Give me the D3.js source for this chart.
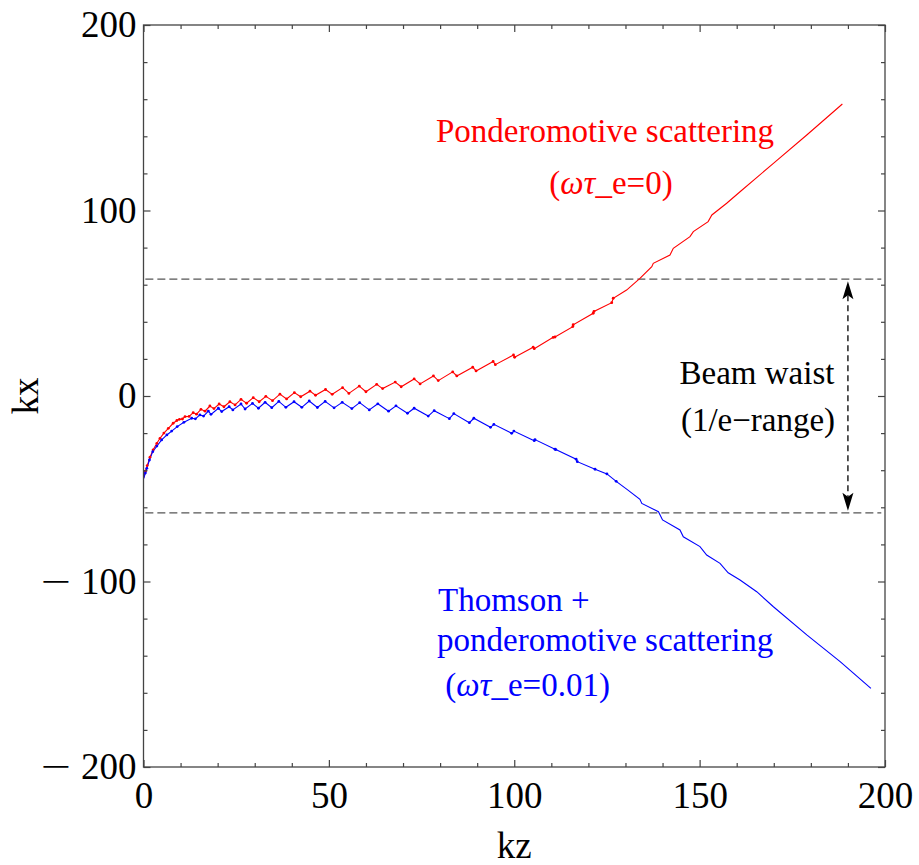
<!DOCTYPE html>
<html>
<head>
<meta charset="utf-8">
<script src="https://cdn.jsdelivr.net/npm/d3@7"></script>
<style>
  html, body { margin: 0; padding: 0; background: #fff; }
  svg { display: block; }
  text { font-family: "Liberation Serif", "Times New Roman", serif; }
</style>
</head>
<body>
<div id="chart"></div>
<script>
// ---------- data ----------
const redKz = [0.1,0.5,1.0,1.75,2.6,3.6,4.45,5.5,6.7,8.0,9.0,9.7,10.5,11.2,12.3,13.4,14.3,15.5,16.6,17.9,19.0,20.4,21.7,23.3,24.7,26.3,27.8,29.6,31.2,33.0,34.8,36.8,38.6,40.7,42.4,44.9,46.4,49.1,50.9,53.7,55.4,58.2,60.0,62.9,64.5,67.9,69.5,73.0,74.6,78.2,79.5,83.4,84.5,88.8,89.7,94.3,94.9,99.8,100.1,105.1,105.4,110.5,111.0,115.8,115.9,121.3,121.5,126.3,126.7,130.3,133.9,137.1,137.5,142.0,142.9,147.4,148.3,152.3,153.3,157.3,160.9,169.9,178.9,188.5];
const redKx = [-44,-40.5,-37.5,-33,-29,-25.5,-22.8,-20,-17.4,-14.7,-13.2,-12.6,-12.4,-11.1,-11.0,-9.0,-9.8,-7.2,-8.2,-5.4,-6.8,-4.3,-5.8,-3.1,-4.8,-1.8,-3.9,-0.9,-3.1,-0.2,-2.5,1.0,-1.6,1.8,-0.4,2.6,0.4,3.5,0.9,4.5,1.4,5.3,2.3,6.3,4.0,7.5,5.0,9.2,6.5,10.8,8.3,13.0,10.8,15.5,13.5,18.6,16.9,22.1,20.9,26.3,25.5,31.6,31.8,37.4,38.4,44.6,45.6,50.3,52.7,57.1,63.4,69.7,71.5,76.0,79.6,85.9,88.6,94.0,97.6,103.9,110.1,125.4,140.7,157.4];

const blueKz = [0.05,0.5,0.9,1.6,2.5,3.6,4.9,6.3,7.6,9.1,10.9,13.0,14.0,15.2,16.2,17.5,18.2,20.2,21.1,23.1,24.1,26.3,27.4,29.4,31.0,32.8,34.6,36.5,38.4,40.6,42.7,44.7,46.9,49.0,51.4,53.6,56.2,58.3,60.9,63.2,66.1,68.1,71.2,73.0,76.8,78.4,82.5,83.7,87.9,89.1,93.6,94.5,99.3,99.9,105.4,105.6,111.0,111.2,116.7,117.0,121.8,125.0,127.5,130.5,133.9,134.4,138.9,140.0,144.7,145.6,150.1,151.9,155.5,157.7,160.9,165.4,169.9,178.9,187.9,196.2];
const blueKx = [-44.5,-41.5,-39,-34.5,-30,-27,-23.7,-21,-18.9,-16.5,-14.2,-12.0,-12.3,-10.2,-10.8,-8.1,-9.9,-6.6,-8.4,-5.8,-7.5,-4.3,-7.0,-4.0,-6.6,-3.4,-6.3,-2.9,-6.1,-3.1,-6.1,-2.7,-6.2,-2.9,-6.4,-3.4,-6.8,-3.6,-7.5,-4.2,-8.2,-5.3,-9.3,-6.6,-10.8,-7.9,-12.2,-9.5,-14.4,-12.0,-16.9,-15.3,-20.1,-18.9,-24.1,-23.5,-28.7,-28.9,-34.1,-35.4,-39.5,-42.0,-46.0,-50.5,-55.7,-57.9,-62.4,-66.8,-72.2,-75.9,-81.2,-85.7,-90.2,-95.3,-99.2,-105.5,-113.6,-128.8,-143.2,-157.6];

const xMajorTicks = [0, 50, 100, 150, 200];
const xTickLabels = ["0", "50", "100", "150", "200"];
const xMinorTicks = [10,20,30,40,60,70,80,90,110,120,130,140,160,170,180,190];
const yMajorTicks = [-200, -100, 0, 100, 200];
const yTickLabels = ["\u2212200", "\u2212100", "0", "100", "200"];
const yMinorTicks = [-180,-160,-140,-120,-80,-60,-40,-20,20,40,60,80,120,140,160,180];

const waistKx = [63, -63];
const arrowKz = 190;

// ---------- layout ----------
const W = 919, H = 865;
const svg = d3.select("#chart").append("svg").attr("width", W).attr("height", H);

const x = d3.scaleLinear().domain([0, 200]).range([143.5, 885]);
const y = d3.scaleLinear().domain([-200, 200]).range([767, 25]);

const frameColor = "#444";
const fsTick = 37, fsText = 33;

// clip
svg.append("clipPath").attr("id", "clip").append("rect")
  .attr("x", x(0)).attr("y", y(200)).attr("width", x(200) - x(0)).attr("height", y(-200) - y(200));

const plot = svg.append("g").attr("clip-path", "url(#clip)");

// dashed waist lines
plot.selectAll("line.waist").data(waistKx).enter().append("line")
  .attr("class", "waist")
  .attr("x1", x(0.5)).attr("x2", x(199))
  .attr("y1", d => y(d)).attr("y2", d => y(d))
  .attr("stroke", "#555").attr("stroke-width", 1.2).attr("stroke-dasharray", "8,4");

// curves
const line = d3.line().x(d => x(d[0])).y(d => y(d[1]));
const redData = redKz.map((k, i) => [k, redKx[i]]);
const blueData = blueKz.map((k, i) => [k, blueKx[i]]);

plot.append("path").datum(redData).attr("d", line)
  .attr("fill", "none").attr("stroke", "#ff0000").attr("stroke-width", 1.1);
plot.append("path").datum(blueData).attr("d", line)
  .attr("fill", "none").attr("stroke", "#0000ff").attr("stroke-width", 1.1);

plot.selectAll("circle.r").data(redData.filter(d => d[0] > 0.3 && d[0] < 128)).enter().append("circle")
  .attr("cx", d => x(d[0])).attr("cy", d => y(d[1])).attr("r", 1.4).attr("fill", "#ff0000");
plot.selectAll("circle.b").data(blueData.filter(d => d[0] > 0.3 && d[0] < 128)).enter().append("circle")
  .attr("cx", d => x(d[0])).attr("cy", d => y(d[1])).attr("r", 1.4).attr("fill", "#0000ff");

// arrow (beam waist)
const ax = x(arrowKz);
const yTop = y(waistKx[0]) + 2, yBot = y(waistKx[1]) - 2;
svg.append("line").attr("x1", ax).attr("x2", ax).attr("y1", yTop + 14).attr("y2", yBot - 14)
  .attr("stroke", "#000").attr("stroke-width", 1.3).attr("stroke-dasharray", "6,4");
function head(tipY, dir) {
  const L = 18, hw = 5.5, notch = 4;
  return `M${ax},${tipY} L${ax - hw},${tipY + dir * L} L${ax},${tipY + dir * (L - notch)} L${ax + hw},${tipY + dir * L} Z`;
}
svg.append("path").attr("d", head(yTop, 1)).attr("fill", "#000");
svg.append("path").attr("d", head(yBot, -1)).attr("fill", "#000");

// frame
svg.append("rect").attr("x", x(0)).attr("y", y(200))
  .attr("width", x(200) - x(0)).attr("height", y(-200) - y(200))
  .attr("fill", "none").attr("stroke", frameColor).attr("stroke-width", 1.3);

function styleAxis(g) {
  g.select(".domain").remove();
  g.selectAll(".tick line").attr("stroke", frameColor).attr("stroke-width", 1.2);
  g.selectAll(".tick text").attr("fill", "#000").attr("font-size", fsTick)
    .attr("font-family", '"Liberation Serif", "Times New Roman", serif');
}
// long, thin minus sign as in the original: horizontally stretched minus placed before the digits
function longMinus(g) {
  g.selectAll(".tick").each(function () {
    const tick = d3.select(this);
    const t = tick.select("text");
    const s = t.text();
    if (s.startsWith("\u2212")) {
      t.text(s.slice(1));
      const digitsW = t.node().getComputedTextLength();
      const right = +t.attr("x") - digitsW - 10;
      tick.append("text")
        .attr("transform", `translate(${right},0) scale(1.45,1)`)
        .attr("dy", t.attr("dy"))
        .attr("text-anchor", "end").attr("fill", "#000").attr("font-size", fsTick)
        .text("\u2212");
    }
  });
}

// bottom
svg.append("g").attr("transform", `translate(0,${y(-200)})`)
  .call(d3.axisBottom(x).tickValues(xMajorTicks).tickSize(-7).tickPadding(15)
    .tickFormat((d, i) => xTickLabels[i])).call(styleAxis);
svg.append("g").attr("transform", `translate(0,${y(-200)})`)
  .call(d3.axisBottom(x).tickValues(xMinorTicks).tickSize(-4).tickFormat("")).call(styleAxis);
// top
svg.append("g").attr("transform", `translate(0,${y(200)})`)
  .call(d3.axisTop(x).tickValues(xMajorTicks).tickSize(-7).tickFormat("")).call(styleAxis);
svg.append("g").attr("transform", `translate(0,${y(200)})`)
  .call(d3.axisTop(x).tickValues(xMinorTicks).tickSize(-4).tickFormat("")).call(styleAxis);
// left
svg.append("g").attr("transform", `translate(${x(0)},0)`)
  .call(d3.axisLeft(y).tickValues(yMajorTicks).tickSize(-7).tickPadding(7)
    .tickFormat((d, i) => yTickLabels[i])).call(styleAxis).call(longMinus);
svg.append("g").attr("transform", `translate(${x(0)},0)`)
  .call(d3.axisLeft(y).tickValues(yMinorTicks).tickSize(-4).tickFormat("")).call(styleAxis);
// right
svg.append("g").attr("transform", `translate(${x(200)},0)`)
  .call(d3.axisRight(y).tickValues(yMajorTicks).tickSize(-7).tickFormat("")).call(styleAxis);
svg.append("g").attr("transform", `translate(${x(200)},0)`)
  .call(d3.axisRight(y).tickValues(yMinorTicks).tickSize(-4).tickFormat("")).call(styleAxis);

// axis labels
svg.append("text").attr("x", x(100)).attr("y", 858).attr("text-anchor", "middle")
  .attr("font-size", fsTick).text("kz");
svg.append("text").attr("transform", `translate(38,${y(0)}) rotate(-90)`).attr("text-anchor", "middle")
  .attr("font-size", fsTick).text("kx");

// annotations: parts = [[text, italic], ...]
function ann(parts, px, py, color, anchor) {
  const t = svg.append("text").attr("x", px).attr("y", py).attr("text-anchor", anchor || "middle")
    .attr("dominant-baseline", "central").attr("font-size", fsText).attr("fill", color)
    .attr("xml:space", "preserve");
  parts.forEach(p => {
    t.append("tspan").attr("font-style", p[1] ? "italic" : "normal").text(p[0]);
  });
}
ann([["Ponderomotive scattering", false]], 605, 131, "#ff0000");
ann([["(", false], ["\u03c9\u03c4", true], ["_e=0)", false]], 611, 183, "#ff0000");
ann([["Beam waist", false]], 757, 373, "#000");
ann([["(1/e\u2212range)", false]], 758, 420, "#000");
ann([["Thomson +", false]], 438, 600, "#0000ff", "start");
ann([["ponderomotive scattering", false]], 437, 640, "#0000ff", "start");
ann([[" (", false], ["\u03c9\u03c4", true], ["_e=0.01)", false]], 437, 685, "#0000ff", "start");
</script>
</body>
</html>
